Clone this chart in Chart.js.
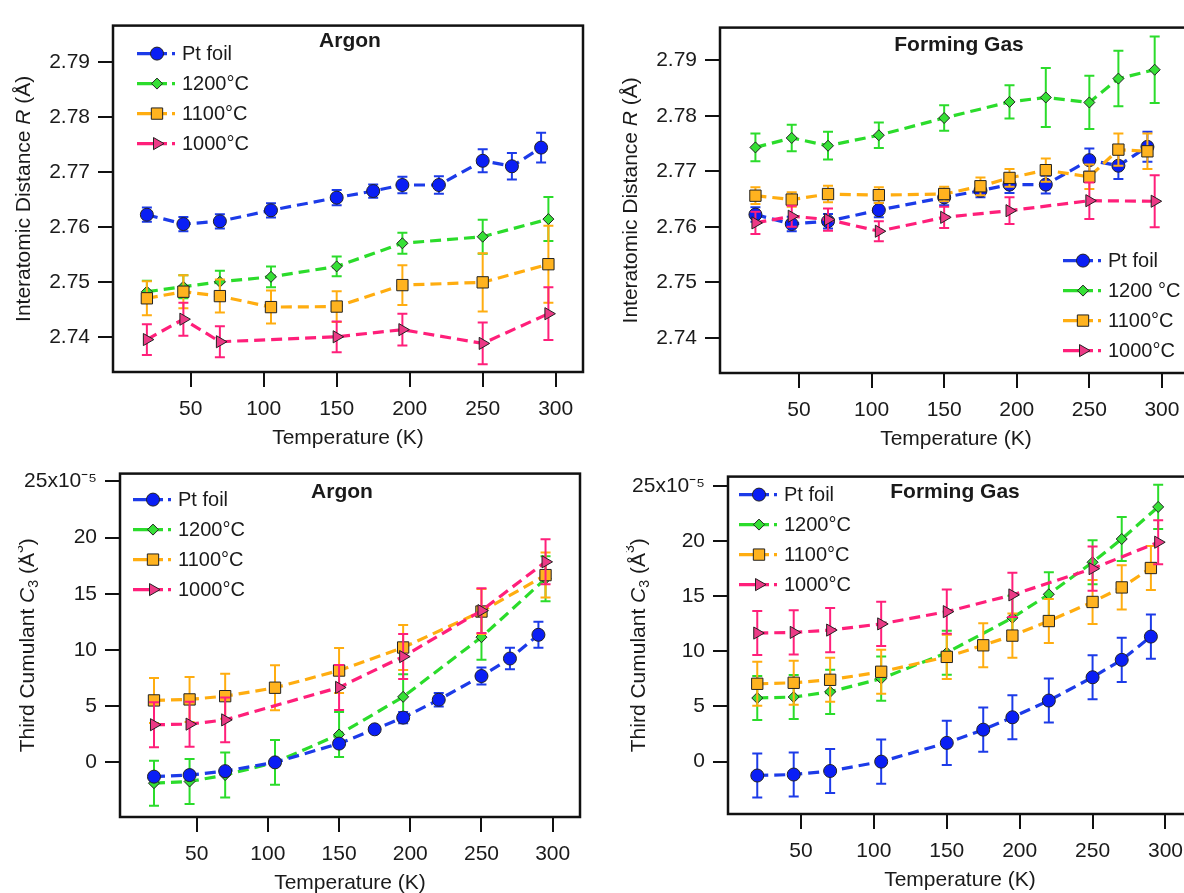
<!DOCTYPE html>
<html>
<head>
<meta charset="utf-8">
<script src="https://cdn.jsdelivr.net/npm/chart.js@4.4.1/dist/chart.umd.min.js"></script>
<style>
  html, body { margin: 0; padding: 0; background: #fff; }
  body { width: 1184px; height: 893px; overflow: hidden; position: relative; }
  canvas { position: absolute; }
</style>
</head>
<body>
<canvas id="c1"></canvas>
<canvas id="c2"></canvas>
<canvas id="c3"></canvas>
<canvas id="c4"></canvas>
<script>
// temperatures (K)
const tempPt = [20, 45, 70, 105, 150, 175, 195, 220, 250, 270, 290];
const temp8 = [20, 45, 70, 105, 150, 195, 250, 295];
const temp7 = [20, 45, 70, 150, 195, 250, 295];
const temp10 = [20, 45, 70, 105, 150, 195, 220, 250, 270, 295];

const xTickVals = [50, 100, 150, 200, 250, 300];
const rTickVals = [2.74, 2.75, 2.76, 2.77, 2.78, 2.79];
const c3TickVals = [0, 5, 10, 15, 20, 25];

// Interatomic distance R (Å), Pt foil reference (same in both panels)
const rPt = [2.7622, 2.7605, 2.7610, 2.7630, 2.7653, 2.7665, 2.7676, 2.7676, 2.7720, 2.7710, 2.7744];
const rPtErr = [0.0013, 0.0013, 0.0013, 0.0013, 0.0014, 0.0012, 0.0015, 0.0016, 0.0021, 0.0024, 0.0027];

// R, Argon
const rAr1200 = [2.7482, 2.7491, 2.7500, 2.7509, 2.7528, 2.7570, 2.7582, 2.7614];
const rAr1200Err = [0.0020, 0.0021, 0.0020, 0.0019, 0.0018, 0.0019, 0.0031, 0.0040];
const rAr1100 = [2.7470, 2.7482, 2.7474, 2.7454, 2.7455, 2.7494, 2.7499, 2.7532];
const rAr1100Err = [0.0031, 0.0030, 0.0030, 0.0030, 0.0028, 0.0036, 0.0053, 0.0070];
const rAr1000 = [2.7395, 2.7432, 2.7391, 2.7400, 2.7413, 2.7388, 2.7442];
const rAr1000Err = [0.0028, 0.0030, 0.0028, 0.0028, 0.0029, 0.0038, 0.0048];

// R, Forming Gas
const rFg1200 = [2.7743, 2.7760, 2.7746, 2.7765, 2.7796, 2.7825, 2.7833, 2.7824, 2.7867, 2.7883];
const rFg1200Err = [0.0025, 0.0024, 0.0025, 0.0023, 0.0023, 0.0030, 0.0053, 0.0048, 0.0050, 0.0060];
const rFg1100 = [2.7656, 2.7649, 2.7659, 2.7657, 2.7659, 2.7673, 2.7688, 2.7702, 2.7690, 2.7739, 2.7736];
const rFg1100Err = [0.0015, 0.0013, 0.0015, 0.0014, 0.0013, 0.0016, 0.0016, 0.0021, 0.0022, 0.0029, 0.0032];
const rFg1000 = [2.7607, 2.7619, 2.7613, 2.7592, 2.7617, 2.7629, 2.7647, 2.7646];
const rFg1000Err = [0.0020, 0.0019, 0.0020, 0.0018, 0.0019, 0.0024, 0.0033, 0.0047];

// third cumulant C3 (x1e-5 Å^3), Argon
const c3ArPt = [-1.27, -1.13, -0.78, 0.0, 1.67, 2.94, 3.98, 5.57, 7.68, 9.24, 11.35];
const c3ArPtErr = [0.3, 0.3, 0.3, 0.3, 0.3, 0.3, 0.5, 0.6, 0.75, 0.95, 1.15];
const c3Ar1200 = [-1.85, -1.70, -1.13, 0.0, 2.48, 5.83, 11.14, 16.34];
const c3Ar1200Err = [2.0, 2.0, 2.0, 2.0, 2.0, 2.0, 2.0, 2.0];
const c3Ar1100 = [5.51, 5.60, 5.89, 6.64, 8.17, 10.22, 13.42, 16.66];
const c3Ar1100Err = [2.0, 2.0, 2.0, 2.0, 2.0, 2.0, 2.0, 2.0];
const c3Ar1000 = [3.35, 3.40, 3.78, 6.67, 9.41, 13.50, 17.84];
const c3Ar1000Err = [2.0, 2.0, 2.0, 2.0, 2.0, 2.0, 2.0];

// C3, Forming Gas
const c3FgPt = [-1.26, -1.17, -0.85, 0.0, 1.70, 2.90, 4.02, 5.54, 7.65, 9.23, 11.34];
const c3FgPtErr = [2.0, 2.0, 2.0, 2.0, 2.0, 2.0, 2.0, 2.0, 2.0, 2.0, 2.0];
const c3Fg1200 = [5.77, 5.86, 6.33, 7.53, 9.88, 13.04, 15.18, 18.08, 20.19, 23.10];
const c3Fg1200Err = [2.0, 2.0, 2.0, 2.0, 2.0, 2.0, 2.0, 2.0, 2.0, 2.0];
const c3Fg1100 = [7.06, 7.15, 7.42, 8.15, 9.50, 10.55, 11.43, 12.75, 14.48, 15.80, 17.56];
const c3Fg1100Err = [2.0, 2.0, 2.0, 2.0, 2.0, 2.0, 2.0, 2.0, 2.0, 2.0, 2.0];
const c3Fg1000 = [11.66, 11.72, 11.93, 12.49, 13.60, 15.12, 17.50, 19.90];
const c3Fg1000Err = [2.0, 2.0, 2.0, 2.0, 2.0, 2.0, 2.0, 2.0];

const labelsStd = ["Pt foil", "1200°C", "1100°C", "1000°C"];
const labelsFgR = ["Pt foil", "1200 °C", "1100°C", "1000°C"];

const FONT = "'Liberation Sans', Arial, Helvetica, sans-serif";
const INK = "#1a1a1a";

const styles = {
  pt: { line: "#1c3be8", fill: "#0a1ef5", shape: "circle", r: 6.5, rot: 0 },
  s1200: { line: "#2bdc2b", fill: "#36e036", shape: "rectRot", r: 5.5, rot: 0 },
  s1100: { line: "#ffad10", fill: "#ffb31f", shape: "rect", r: 8, rot: 0 },
  s1000: { line: "#ff1f7a", fill: "#ec3a86", shape: "triangle", r: 7, rot: 90 },
};

function drawMarker(ctx, st, x, y) {
  ctx.save();
  ctx.fillStyle = st.fill;
  ctx.strokeStyle = "#222";
  ctx.lineWidth = 1;
  ctx.setLineDash([]);
  ctx.beginPath();
  const r = st.r;
  if (st.shape === "circle") {
    ctx.arc(x, y, r, 0, Math.PI * 2);
  } else if (st.shape === "rectRot") {
    ctx.moveTo(x - r, y); ctx.lineTo(x, y - r); ctx.lineTo(x + r, y); ctx.lineTo(x, y + r); ctx.closePath();
  } else if (st.shape === "rect") {
    const h = r * Math.SQRT1_2;
    ctx.rect(x - h, y - h, 2 * h, 2 * h);
  } else {
    ctx.moveTo(x + r, y); ctx.lineTo(x - r / 2, y - r * 0.866); ctx.lineTo(x - r / 2, y + r * 0.866); ctx.closePath();
  }
  ctx.fill();
  ctx.stroke();
  ctx.restore();
}

function drawRich(ctx, parts, size, cx, cy, rot) {
  ctx.save();
  ctx.translate(cx, cy);
  ctx.rotate(rot);
  const fontFor = (p) => (p.italic ? "italic " : "") + (p.sub || p.sup ? Math.round(size * 0.68) : size) + "px " + FONT;
  let total = 0;
  parts.forEach((p) => { ctx.font = fontFor(p); p.w = ctx.measureText(p.t).width; total += p.w; });
  let x = -total / 2;
  ctx.textBaseline = "middle";
  ctx.textAlign = "left";
  ctx.fillStyle = INK;
  parts.forEach((p) => {
    ctx.font = fontFor(p);
    const dy = p.sub ? size * 0.3 : p.sup ? -size * 0.42 : 0;
    ctx.fillText(p.t, x, dy);
    x += p.w;
  });
  ctx.restore();
}

// error bars, drawn just under each dataset
const errorBars = {
  id: "errorBars",
  beforeDatasetDraw(chart, args) {
    const ds = chart.data.datasets[args.index];
    if (!ds.err) return;
    const xs = chart.scales.x, ys = chart.scales.y, ctx = chart.ctx, a = chart.chartArea;
    ctx.save();
    ctx.beginPath();
    ctx.rect(a.left, a.top, a.right - a.left, a.bottom - a.top);
    ctx.clip();
    ctx.strokeStyle = ds.borderColor;
    ctx.lineWidth = 2;
    ctx.setLineDash([]);
    ds.data.forEach((p, i) => {
      const px = xs.getPixelForValue(p.x);
      const top = ys.getPixelForValue(p.y + ds.err[i]);
      const bot = ys.getPixelForValue(p.y - ds.err[i]);
      ctx.beginPath();
      ctx.moveTo(px, top); ctx.lineTo(px, bot);
      ctx.moveTo(px - 5, top); ctx.lineTo(px + 5, top);
      ctx.moveTo(px - 5, bot); ctx.lineTo(px + 5, bot);
      ctx.stroke();
    });
    ctx.restore();
  },
};

// frame, panel title, legend, y title
const decor = {
  id: "decor",
  afterDraw(chart) {
    const cfg = chart.options.plugins.decor;
    const ctx = chart.ctx, a = chart.chartArea;
    ctx.save();
    ctx.strokeStyle = "#111";
    ctx.lineWidth = 2.5;
    ctx.strokeRect(a.left, a.top, a.right - a.left, a.bottom - a.top);

    ctx.fillStyle = INK;
    ctx.font = "bold 21px " + FONT;
    ctx.textAlign = "center";
    ctx.textBaseline = "middle";
    ctx.fillText(cfg.title, a.left + cfg.titleDx, a.top + cfg.titleDy);

    cfg.legendSeries.forEach((s, i) => {
      const m = a.left + cfg.legendDx;
      const y = a.top + cfg.legendDy + i * 30;
      ctx.strokeStyle = s.style.line;
      ctx.lineWidth = 3.2;
      ctx.setLineDash([]);
      ctx.beginPath();
      ctx.moveTo(m - 20, y); ctx.lineTo(m - 4, y);
      ctx.moveTo(m + 4, y); ctx.lineTo(m + 10, y);
      ctx.moveTo(m + 15, y); ctx.lineTo(m + 18, y);
      ctx.stroke();
      drawMarker(ctx, s.style, m, y);
      ctx.fillStyle = INK;
      ctx.font = "20px " + FONT;
      ctx.textAlign = "left";
      ctx.textBaseline = "middle";
      ctx.fillText(s.label, m + 25, y + 1);
    });

    drawRich(ctx, cfg.yTitle, 21, a.left - cfg.yTitleDx, (a.top + a.bottom) / 2, -Math.PI / 2);
    ctx.restore();
  },
};

const rTitle = [{ t: "Interatomic Distance " }, { t: "R", italic: true }, { t: " (Å)" }];
const c3Title = [{ t: "Third Cumulant " }, { t: "C", italic: true }, { t: "3", sub: true }, { t: " (Å" }, { t: "3", sup: true }, { t: ")" }];

function makePanel(id, p) {
  const yAxisW = 102, xAxisH = 79, tPad = 10, rPad = 10;
  const canvas = document.getElementById(id);
  const w = yAxisW + (p.frame.r - p.frame.l) + rPad;
  const h = tPad + (p.frame.b - p.frame.t) + xAxisH;
  canvas.width = w; canvas.height = h;
  canvas.style.left = (p.frame.l - yAxisW) + "px";
  canvas.style.top = (p.frame.t - tPad) + "px";
  canvas.style.width = w + "px"; canvas.style.height = h + "px";

  // paint order: 1200 at bottom, then Pt, 1100, 1000 on top
  const paint = [p.series[1], p.series[0], p.series[2], p.series[3]];
  const datasets = paint.slice().reverse().map((s) => ({
    label: s.label,
    data: s.x.map((x, i) => ({ x: x, y: s.y[i] })),
    err: s.err,
    borderColor: s.style.line,
    borderWidth: 3.2,
    borderDash: [11, 6],
    tension: 0,
    fill: false,
    pointStyle: s.style.shape,
    pointRadius: s.style.r,
    pointRotation: s.style.rot,
    pointBackgroundColor: s.style.fill,
    pointBorderColor: "#222",
    pointBorderWidth: 1,
    pointHoverRadius: s.style.r,
  }));

  const tickFont = { family: FONT, size: 21 };
  return new Chart(canvas, {
    type: "line",
    data: { datasets: datasets },
    plugins: [errorBars, decor],
    options: {
      responsive: false,
      animation: false,
      events: [],
      layout: { padding: { left: 0, top: tPad, right: rPad, bottom: 0 } },
      scales: {
        x: {
          type: "linear",
          min: p.xMin, max: p.xMax,
          afterBuildTicks: (sc) => { sc.ticks = xTickVals.map((v) => ({ value: v })); },
          afterFit: (sc) => { sc.height = xAxisH; },
          grid: { drawOnChartArea: false, drawTicks: true, tickLength: 15, color: "#111", lineWidth: 2 },
          border: { display: false },
          ticks: { font: tickFont, color: INK, padding: 10, maxRotation: 0, autoSkip: false },
          title: { display: true, text: "Temperature (K)", font: { family: FONT, size: 21 }, color: INK, padding: 0 },
        },
        y: {
          type: "linear",
          min: p.yMin, max: p.yMax,
          afterBuildTicks: (sc) => { sc.ticks = p.yTicks.map((v) => ({ value: v })); },
          afterFit: (sc) => { sc.width = yAxisW; },
          grid: { drawOnChartArea: false, drawTicks: true, tickLength: 15, color: "#111", lineWidth: 2 },
          border: { display: false },
          ticks: { font: tickFont, color: INK, padding: 8, autoSkip: false, callback: p.yFmt },
        },
      },
      plugins: {
        legend: { display: false },
        tooltip: { enabled: false },
        decor: {
          title: p.title, titleDx: p.titleDx, titleDy: p.titleDy,
          legendSeries: p.series, legendDx: p.legendDx, legendDy: p.legendDy,
          yTitle: p.yTitle, yTitleDx: p.yTitleDx,
        },
      },
    },
  });
}

const fmtR = (v) => v.toFixed(2);
const fmtC3 = (v) => (v === 25 ? "25x10⁻⁵" : String(v));

makePanel("c1", {
  frame: { l: 113, t: 15, r: 583, b: 372 },
  xMin: -3.2, xMax: 318.7, yMin: 2.7336, yMax: 2.79658,
  yTicks: rTickVals, yFmt: fmtR, yTitle: rTitle, yTitleDx: 89,
  title: "Argon", titleDx: 237, titleDy: 16,
  legendDx: 44, legendDy: 28,
  series: [
    { label: labelsStd[0], x: tempPt, y: rPt, err: rPtErr, style: styles.pt },
    { label: labelsStd[1], x: temp8, y: rAr1200, err: rAr1200Err, style: styles.s1200 },
    { label: labelsStd[2], x: temp8, y: rAr1100, err: rAr1100Err, style: styles.s1100 },
    { label: labelsStd[3], x: temp7, y: rAr1000, err: rAr1000Err, style: styles.s1000 },
  ],
});

makePanel("c2", {
  frame: { l: 720, t: 17, r: 1192, b: 373 },
  xMin: -4.4, xMax: 320.7, yMin: 2.73365, yMax: 2.79589,
  yTicks: rTickVals, yFmt: fmtR, yTitle: rTitle, yTitleDx: 89,
  title: "Forming Gas", titleDx: 239, titleDy: 18,
  legendDx: 363, legendDy: 233,
  series: [
    { label: labelsFgR[0], x: tempPt, y: rPt, err: rPtErr, style: styles.pt },
    { label: labelsFgR[1], x: temp10, y: rFg1200, err: rFg1200Err, style: styles.s1200 },
    { label: labelsFgR[2], x: tempPt, y: rFg1100, err: rFg1100Err, style: styles.s1100 },
    { label: labelsFgR[3], x: temp8, y: rFg1000, err: rFg1000Err, style: styles.s1000 },
  ],
});

makePanel("c3", {
  frame: { l: 120, t: 463, r: 580, b: 817 },
  xMin: -3.86, xMax: 319.2, yMin: -4.86, yMax: 25.69,
  yTicks: c3TickVals, yFmt: fmtC3, yTitle: c3Title, yTitleDx: 92,
  title: "Argon", titleDx: 222, titleDy: 19,
  legendDx: 33, legendDy: 26,
  series: [
    { label: labelsStd[0], x: tempPt, y: c3ArPt, err: c3ArPtErr, style: styles.pt },
    { label: labelsStd[1], x: temp8, y: c3Ar1200, err: c3Ar1200Err, style: styles.s1200 },
    { label: labelsStd[2], x: temp8, y: c3Ar1100, err: c3Ar1100Err, style: styles.s1100 },
    { label: labelsStd[3], x: temp7, y: c3Ar1000, err: c3Ar1000Err, style: styles.s1000 },
  ],
});

makePanel("c4", {
  frame: { l: 728, t: 466, r: 1192, b: 814 },
  xMin: -0.07, xMax: 318.2, yMin: -4.75, yMax: 25.85,
  yTicks: c3TickVals, yFmt: fmtC3, yTitle: c3Title, yTitleDx: 89,
  title: "Forming Gas", titleDx: 227, titleDy: 16,
  legendDx: 31, legendDy: 18,
  series: [
    { label: labelsStd[0], x: tempPt, y: c3FgPt, err: c3FgPtErr, style: styles.pt },
    { label: labelsStd[1], x: temp10, y: c3Fg1200, err: c3Fg1200Err, style: styles.s1200 },
    { label: labelsStd[2], x: tempPt, y: c3Fg1100, err: c3Fg1100Err, style: styles.s1100 },
    { label: labelsStd[3], x: temp8, y: c3Fg1000, err: c3Fg1000Err, style: styles.s1000 },
  ],
});
</script>
</body>
</html>
